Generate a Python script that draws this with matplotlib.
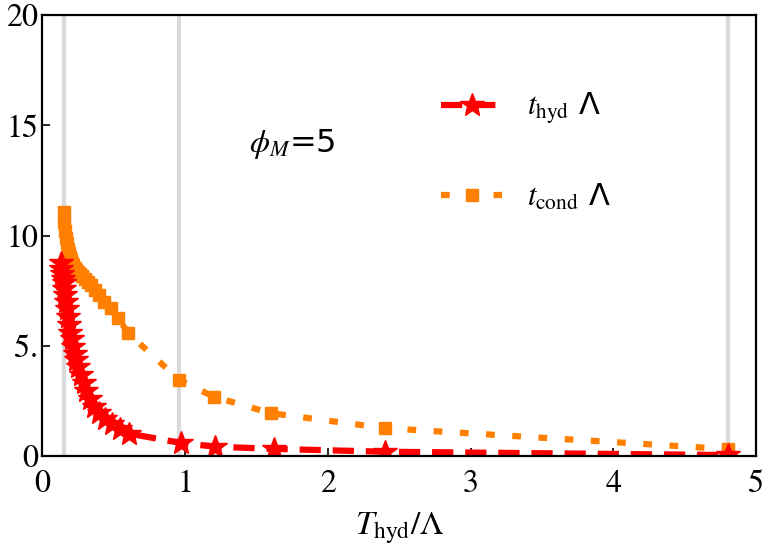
import matplotlib
matplotlib.use("Agg")
import matplotlib.pyplot as plt

plt.rcParams["mathtext.fontset"] = "stix"
plt.rcParams["font.family"] = ["STIXGeneral", "DejaVu Serif"]

# hydro time (red stars)
t_hyd_x = [0.13, 0.135, 0.14, 0.145, 0.15, 0.156, 0.162, 0.168, 0.175, 0.182,
           0.19, 0.198, 0.207, 0.217, 0.228, 0.24, 0.254, 0.27, 0.29, 0.31,
           0.335, 0.365, 0.4, 0.44, 0.49, 0.545, 0.61, 0.97, 1.21, 1.62, 2.4, 4.8]
t_hyd_y = [8.75, 8.5, 8.25, 8.05, 7.85, 7.6, 7.3, 7.0, 6.65, 6.3,
           5.95, 5.6, 5.3, 4.95, 4.65, 4.35, 4.05, 3.7, 3.3, 2.95,
           2.6, 2.25, 1.95, 1.7, 1.45, 1.25, 1.02, 0.6, 0.43, 0.33, 0.2, 0.05]

# conduction time (orange squares)
t_cond_x = [0.15, 0.155, 0.16, 0.166, 0.171, 0.178, 0.185, 0.192, 0.2, 0.209,
            0.218, 0.229, 0.24, 0.253, 0.267, 0.282, 0.3, 0.32, 0.343, 0.369,
            0.4, 0.436, 0.48, 0.533, 0.6, 0.96, 1.2, 1.6, 2.4, 4.8]
t_cond_y = [11.05, 10.6, 10.2, 9.9, 9.65, 9.4, 9.2, 9.05, 8.9, 8.78,
            8.66, 8.55, 8.45, 8.35, 8.25, 8.15, 8.05, 7.9, 7.75, 7.55,
            7.3, 7.0, 6.7, 6.25, 5.6, 3.45, 2.7, 1.95, 1.27, 0.32]

vlines_x = [0.15, 0.96, 4.8]
xticks = [0, 1, 2, 3, 4, 5]
yticks = [0, 5, 10, 15, 20]
ytick_labels = ["0", "5.", "10", "15", "20"]

fig = plt.figure(figsize=(7.67, 5.59), dpi=100)
ax = fig.add_axes([0.055, 0.184, 0.931, 0.789])

for xv in vlines_x:
    ax.axvline(xv, color="#d9d9d9", lw=3, zorder=0)

ax.plot(t_cond_x, t_cond_y, color="#ff8000", lw=4.5, dashes=(1.4, 2.8),
        marker="s", ms=8.5, label=r"$t_{\rm cond}$ Λ")
ax.plot(t_hyd_x, t_hyd_y, color="#ff0000", lw=4.5, dashes=(3.4, 1.9),
        marker="*", ms=18, label=r"$t_{\rm hyd}$ Λ")

ax.set_xlim(0, 5)
ax.set_ylim(0, 20)
ax.set_xticks(xticks)
ax.set_yticks(yticks)
ax.set_yticklabels(ytick_labels)
ax.tick_params(direction="in", labelsize=23, length=6, width=1.2)
ax.tick_params(axis="x", pad=10)
ax.tick_params(axis="y", pad=3)
for s in ax.spines.values():
    s.set_linewidth(1.6)

ax.set_xlabel(r"$T_{\rm hyd}$/Λ", fontsize=24, labelpad=8)

ax.text(0.29, 0.69, r"$\phi_M$=5", transform=ax.transAxes, fontsize=23,
        family=["DejaVu Sans"])

handles, labels = ax.get_legend_handles_labels()
leg = ax.legend(handles[::-1], labels[::-1], loc="upper left",
                bbox_to_anchor=(0.52, 0.89), frameon=False, fontsize=22,
                labelspacing=1.8, handlelength=2.0, handletextpad=0.8)
for t in leg.get_texts():
    t.set_family(["DejaVu Sans"])

fig.savefig("out.png", dpi=100)
